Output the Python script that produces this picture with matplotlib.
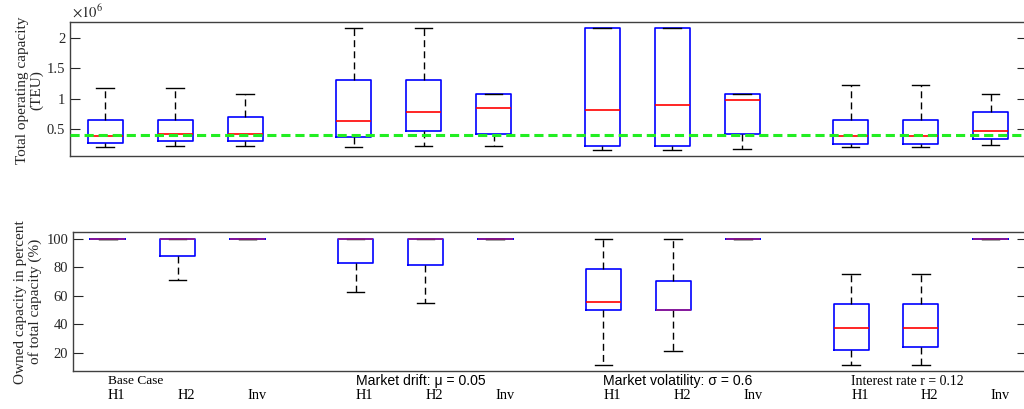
# Box plots of capacity results for four scenarios and three strategies

import numpy as np
import matplotlib
matplotlib.use('Agg')
from matplotlib import pylab as plt
from matplotlib.transforms import blended_transform_factory

# scenario groups and strategies
groups      = ['Base Case', 'Market drift: μ = 0.05',
               'Market volatility: σ = 0.6', 'Interest rate r = 0.12']
group_serif = [True, False, False, True]
cases       = ['H1', 'H2', 'Inv']

# total operating capacity, millions of TEU
cap_lo  = [0.20, 0.22, 0.22,  0.20, 0.22, 0.22,  0.15, 0.15, 0.17,  0.20, 0.20, 0.24]
cap_q1  = [0.27, 0.30, 0.30,  0.37, 0.46, 0.41,  0.22, 0.22, 0.41,  0.26, 0.26, 0.34]
cap_med = [0.39, 0.41, 0.41,  0.63, 0.78, 0.84,  0.82, 0.89, 0.97,  0.39, 0.39, 0.46]
cap_q3  = [0.65, 0.65, 0.70,  1.30, 1.30, 1.08,  2.16, 2.16, 1.08,  0.65, 0.65, 0.78]
cap_hi  = [1.18, 1.18, 1.08,  2.17, 2.17, 1.08,  2.16, 2.16, 1.08,  1.23, 1.23, 1.08]
cap_ref = 0.40

# owned capacity in percent of total capacity
own_lo  = [100, 71.4, 100,  62.7, 54.7, 100,  11.5, 21.4, 100,  11.5, 11.5, 100]
own_q1  = [100, 88.0, 100,  83.3, 81.9, 100,  50.0, 50.0, 100,  22.1, 23.8, 100]
own_med = [100, 100,  100,  100,  100,  100,  55.9, 50.0, 100,  37.3, 37.3, 100]
own_q3  = [100, 100,  100,  100,  100,  100,  78.9, 70.2, 100,  54.5, 54.5, 100]
own_hi  = [100, 100,  100,  100,  100,  100,  100,  100,  100,  75.1, 75.1, 100]

positions = np.array([g * 3.55 + i for g in range(len(groups)) for i in range(len(cases))])


def make_stats(lo, q1, med, q3, hi):
    return [dict(whislo=a, q1=b, med=c, q3=d, whishi=e, fliers=[])
            for a, b, c, d, e in zip(lo, q1, med, q3, hi)]


def draw_boxes(ax, stats):
    bp = ax.bxp(stats, positions=positions, widths=0.5, showfliers=False,
                boxprops=dict(color='blue', linewidth=1.2),
                medianprops=dict(color='red', linewidth=1.2),
                whiskerprops=dict(color='black', linewidth=1.0, linestyle=(0, (5, 3))),
                capprops=dict(color='black', linewidth=1.0),
                capwidths=0.25)
    # median lying on a box edge blends with the blue edge
    for s, m in zip(stats, bp['medians']):
        if s['med'] in (s['q1'], s['q3']):
            m.set_color('#9a1a8a')
    return bp


def style_axes(ax):
    ax.tick_params(axis='y', direction='in', length=7, width=0.8,
                   right=True, labelsize=10.5, colors='#262626', labelcolor='#262626')
    ax.tick_params(axis='x', bottom=False, labelbottom=False)
    for side in ['left', 'top', 'bottom', 'right']:
        ax.spines[side].set_color('#404040')
        ax.spines[side].set_linewidth(1.0)
    ax.set_xlim(-0.5, 13.17)
    for lbl in ax.get_yticklabels():
        lbl.set_family('Liberation Serif')


fig = plt.figure(figsize=(10.24, 4.09), dpi=100)

# top panel: total operating capacity
ax1 = fig.add_axes([70 / 1024, 1 - 156 / 409, 957 / 1024, 134 / 409])
draw_boxes(ax1, make_stats(cap_lo, cap_q1, cap_med, cap_q3, cap_hi))
ax1.axhline(cap_ref, color='#22ee22', linewidth=2.2, linestyle=(0, (3, 1.6)), zorder=5)
ax1.set_ylim(0.054, 2.264)
ax1.set_yticks([0.5, 1.0, 1.5, 2.0])
ax1.set_yticklabels(['0.5', '1', '1.5', '2'])
style_axes(ax1)
ax1.set_ylabel('Total operating capacity\n(TEU)', family='Liberation Serif',
               fontsize=11, color='#262626', linespacing=1.1)
ax1.yaxis.set_label_coords(-0.028, 0.49)
fig.text(72 / 1024, 1 - 12 / 409, r'$\times10^6$', family='Liberation Serif',
         fontsize=10.5, color='#262626', ha='left', va='center',
         math_fontfamily='stix')

# bottom panel: owned capacity share
ax2 = fig.add_axes([73 / 1024, 1 - 371 / 409, 954 / 1024, 138.7 / 409])
draw_boxes(ax2, make_stats(own_lo, own_q1, own_med, own_q3, own_hi))
ax2.set_ylim(7.0, 104.7)
ax2.set_yticks([20, 40, 60, 80, 100])
style_axes(ax2)
ax2.set_ylabel('Owned capacity in percent\nof total capacity (%)', family='Liberation Serif',
               fontsize=11, color='#262626', linespacing=1.1)
ax2.yaxis.set_label_coords(-0.032, 0.5)

# group names and strategy labels under the bottom panel
trans = blended_transform_factory(ax2.transData, ax2.transAxes)
for g, name in enumerate(groups):
    x0 = positions[g * len(cases)]
    if group_serif[g]:
        ax2.text(x0, -0.075, name, transform=trans, ha='left', va='center',
                 family='Liberation Serif', fontsize=9.6 if g == 0 else 9.9, color='black')
    else:
        ax2.text(x0, -0.075, name, transform=trans, ha='left', va='center',
                 family='Liberation Sans', fontsize=10.1, color='black')
for p, c in zip(positions, cases * len(groups)):
    ax2.text(p, -0.18, c, transform=trans, ha='left', va='center',
             family='Liberation Serif', fontsize=10.3, color='black')

plt.savefig('out.png', dpi=100)
